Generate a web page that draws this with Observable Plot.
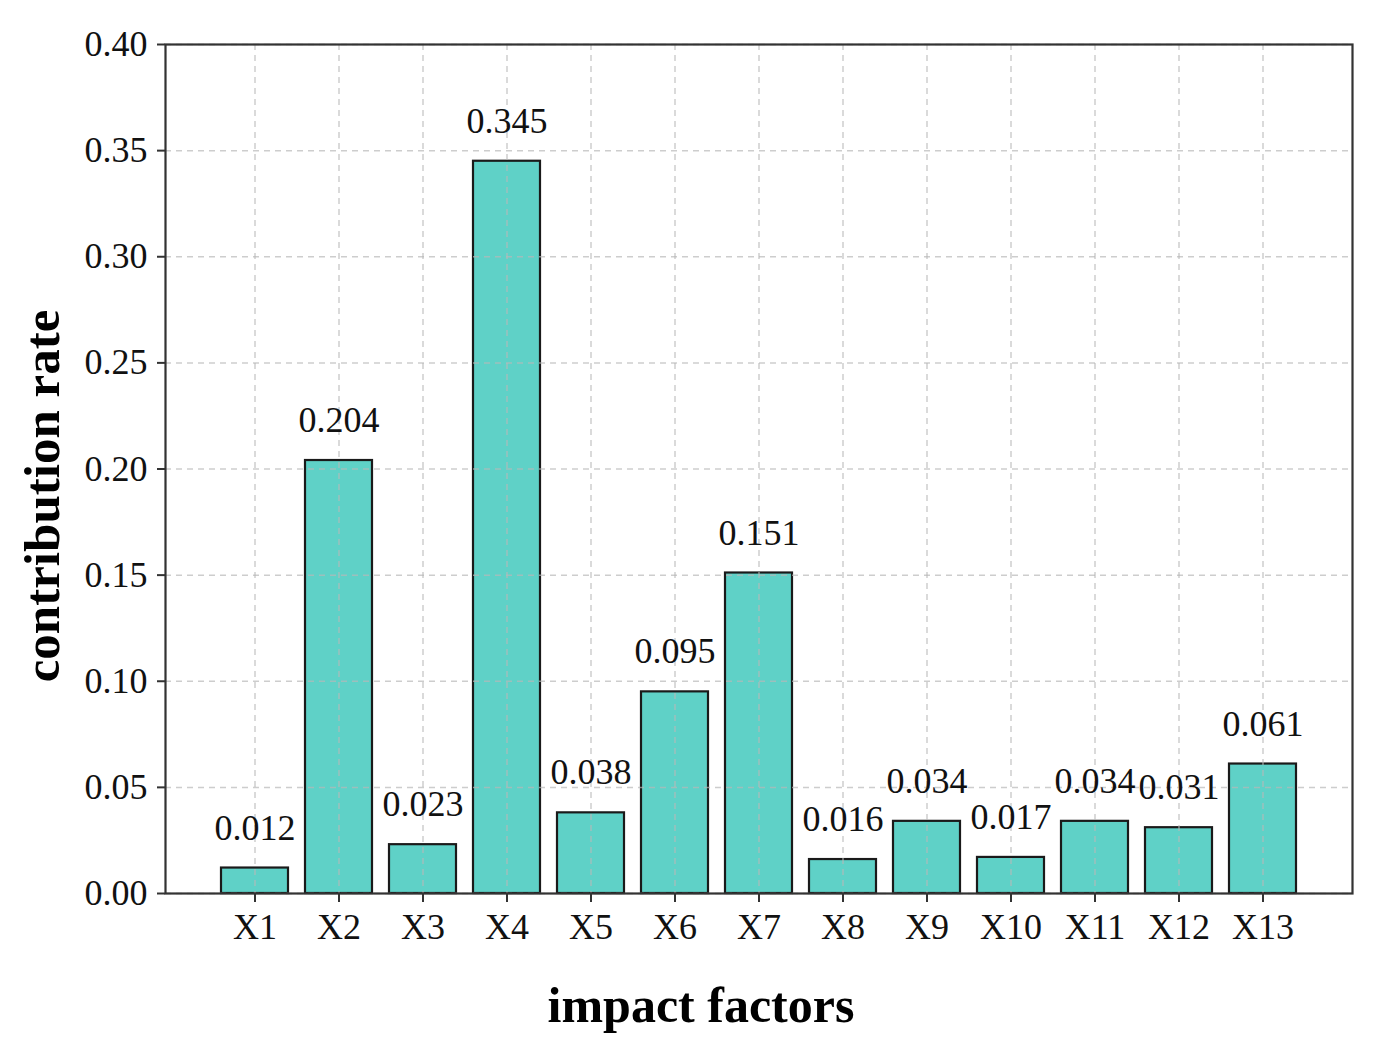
<!DOCTYPE html>
<html>
<head>
<meta charset="utf-8">
<script src="https://cdn.jsdelivr.net/npm/d3@7"></script>
<script src="https://cdn.jsdelivr.net/npm/@observablehq/plot@0.6"></script>
<style>
  html, body { margin: 0; padding: 0; background: #fff; }
  #chart svg { display: block; }
</style>
</head>
<body>
<div id="chart"></div>
<script>
const factors = ["X1","X2","X3","X4","X5","X6","X7","X8","X9","X10","X11","X12","X13"];
const rates = [0.012, 0.204, 0.023, 0.345, 0.038, 0.095, 0.151, 0.016, 0.034, 0.017, 0.034, 0.031, 0.061];
const yTicks = [0, 0.05, 0.10, 0.15, 0.20, 0.25, 0.30, 0.35, 0.40];

const data = factors.map((f, i) => ({factor: f, rate: rates[i]}));
const font = "'Liberation Serif', 'Times New Roman', serif";

const chart = Plot.plot({
  width: 1376,
  height: 1047,
  marginLeft: 165,
  marginRight: 24,
  marginTop: 44,
  marginBottom: 154,
  style: {fontFamily: font, fontSize: "36px", color: "#111", background: "#fff"},
  x: {domain: factors, paddingInner: 0.2, paddingOuter: 0.66, label: null},
  y: {domain: [0, 0.4], label: null},
  marks: [
    Plot.barY(data, {x: "factor", y: "rate", fill: "#5fd1c7", stroke: "#1a1a1a", strokeWidth: 2.2}),
    Plot.gridY(yTicks, {stroke: "#b8b8b8", strokeOpacity: 0.7, strokeDasharray: "6,5", strokeWidth: 1.5}),
    Plot.gridX(factors, {stroke: "#b8b8b8", strokeOpacity: 0.7, strokeDasharray: "6,5", strokeWidth: 1.5}),
    Plot.frame({stroke: "#333", strokeWidth: 2.2}),
    Plot.axisY(yTicks, {tickFormat: d3.format(".2f"), tickSize: 8, tickPadding: 10, stroke: "#333", strokeWidth: 2, fontSize: 36, fill: "#111"}),
    Plot.axisX(factors, {tickSize: 9, tickPadding: 11, stroke: "#333", strokeWidth: 2, fontSize: 36, fill: "#111"}),
    Plot.text(data, {x: "factor", y: "rate", text: d => d.rate.toFixed(3), dy: -40, fontSize: 36, fill: "#111", lineAnchor: "middle"}),
    Plot.text(["contribution rate"], {frameAnchor: "left", textAnchor: "middle", dx: -123, dy: 27, rotate: -90, fontSize: 51, fontWeight: "bold", fill: "#000", lineAnchor: "middle"}),
    Plot.text(["impact factors"], {frameAnchor: "bottom", textAnchor: "middle", dx: -58, dy: 112, fontSize: 50, fontWeight: "bold", fill: "#000", lineAnchor: "middle"})
  ]
});
document.getElementById("chart").appendChild(chart);
</script>
</body>
</html>
